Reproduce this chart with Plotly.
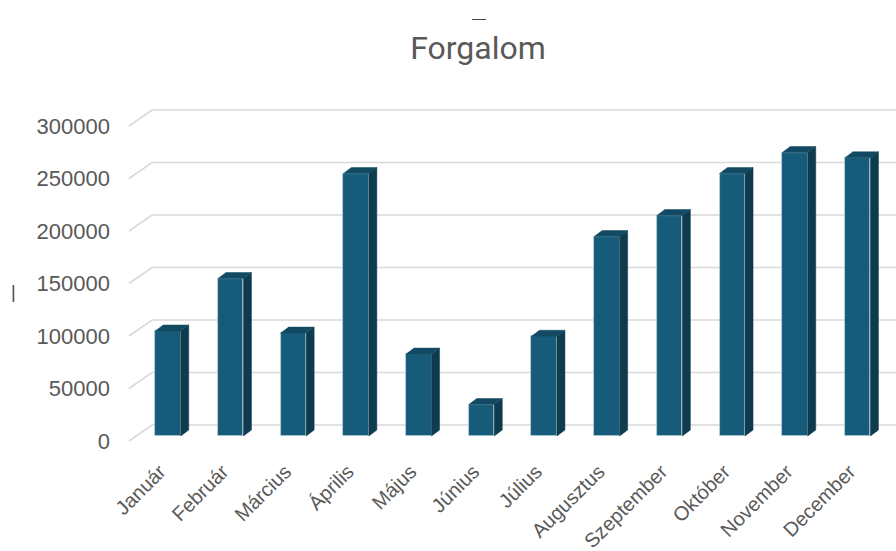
import plotly.graph_objects as go

# Monthly turnover
months = ["Január", "Február", "Március", "Április", "Május", "Június",
          "Július", "Augusztus", "Szeptember", "Október", "November", "December"]
turnover = [100000, 150000, 98000, 250000, 78000, 30000,
            95000, 190000, 210000, 250000, 270000, 265000]
y_ticks = [0, 50000, 100000, 150000, 200000, 250000, 300000]

# Pseudo-3D geometry (axis units)
W, H = 896, 551
L, R, T, B = 111, 0, 95, 99
PW, PH = W - L - R, H - T - B
PX_PER_CAT = 62.7
PX_PER_VAL = 0.00105
x0 = -(168 - L) / PX_PER_CAT
x1 = x0 + PW / PX_PER_CAT
y0 = -((H - B) - 441) / PX_PER_VAL
y1 = y0 + PH / PX_PER_VAL

bar_w = 25.5 / PX_PER_CAT
bar_base = 5 / PX_PER_VAL            # bars stand a little behind the floor front
depth_dx = 8 / PX_PER_CAT            # bar depth
depth_dy = 6 / PX_PER_VAL
wall_left_front = x0 + (129 - L) / PX_PER_CAT
wall_dx = 23 / PX_PER_CAT            # back wall offset
wall_dy = 16 / PX_PER_VAL

FRONT = "#165b79"
SIDE = "#0e3b4e"
TOP = "#114a62"
GRID = "#d9d9d9"
TXT = "#595959"

fig = go.Figure()

# Gridlines behind the columns: slanted side-wall segment, then the back wall
for v in y_ticks:
    fig.add_shape(type="path", xref="x", yref="y", layer="below",
                  path=(f"M {wall_left_front},{v} "
                        f"L {wall_left_front + wall_dx},{v + wall_dy} "
                        f"L {x1 + 1},{v + wall_dy}"),
                  line=dict(color=GRID, width=1.6))

# Side and top faces of each column
for i, v in enumerate(turnover):
    xl, xr = i - bar_w / 2, i + bar_w / 2
    top = bar_base + v
    fig.add_trace(go.Scatter(
        x=[xr, xr + depth_dx, xr + depth_dx, xr, xr],
        y=[bar_base, bar_base + depth_dy, top + depth_dy, top, bar_base],
        fill="toself", fillcolor=SIDE, mode="lines",
        line=dict(color=SIDE, width=0.5),
        hoverinfo="skip", showlegend=False))
    fig.add_trace(go.Scatter(
        x=[xl, xr, xr + depth_dx, xl + depth_dx, xl],
        y=[top, top, top + depth_dy, top + depth_dy, top],
        fill="toself", fillcolor=TOP, mode="lines",
        line=dict(color=TOP, width=0.5),
        hoverinfo="skip", showlegend=False))

# Front faces
fig.add_trace(go.Bar(
    x=list(range(len(months))), y=turnover, base=bar_base, width=bar_w,
    marker=dict(color=FRONT, line=dict(color="rgba(190,215,228,0.7)", width=0.8)),
    showlegend=False))

fig.update_layout(
    width=W, height=H,
    margin=dict(l=L, r=R, t=T, b=B, autoexpand=False),
    paper_bgcolor="white", plot_bgcolor="white",
    title=dict(text="Forgalom", x=478 / W, xanchor="center",
               y=1 - 48 / H, yanchor="middle",
               font=dict(family="Roboto", size=32, color=TXT)),
    xaxis=dict(range=[x0, x1], tickvals=list(range(len(months))), ticktext=months,
               tickangle=-45, showgrid=False, zeroline=False, showline=False,
               ticks="", ticklabelshift=-8, ticklabelstandoff=3, automargin=False,
               tickfont=dict(family="Liberation Sans", size=20, color=TXT)),
    yaxis=dict(range=[y0, y1], tickvals=y_ticks, ticktext=[str(v) for v in y_ticks],
               showgrid=False, zeroline=False, showline=False, ticks="", automargin=False,
               tickfont=dict(family="Liberation Sans", size=22, color=TXT)),
    bargap=0,
)


def paper_xy(px, py):
    return (px - L) / PW, (H - B - py) / PH


# Clipped fragments of surrounding text at the edges
for txt, (px, py), size in [("—", (479, 8), 14), ("|", (9, 292), 18)]:
    ax, ay = paper_xy(px, py)
    fig.add_annotation(text=txt, x=ax, y=ay, xref="paper", yref="paper",
                       showarrow=False,
                       font=dict(family="Liberation Sans", size=size, color="#444444"))

fig.write_html("out.html")
